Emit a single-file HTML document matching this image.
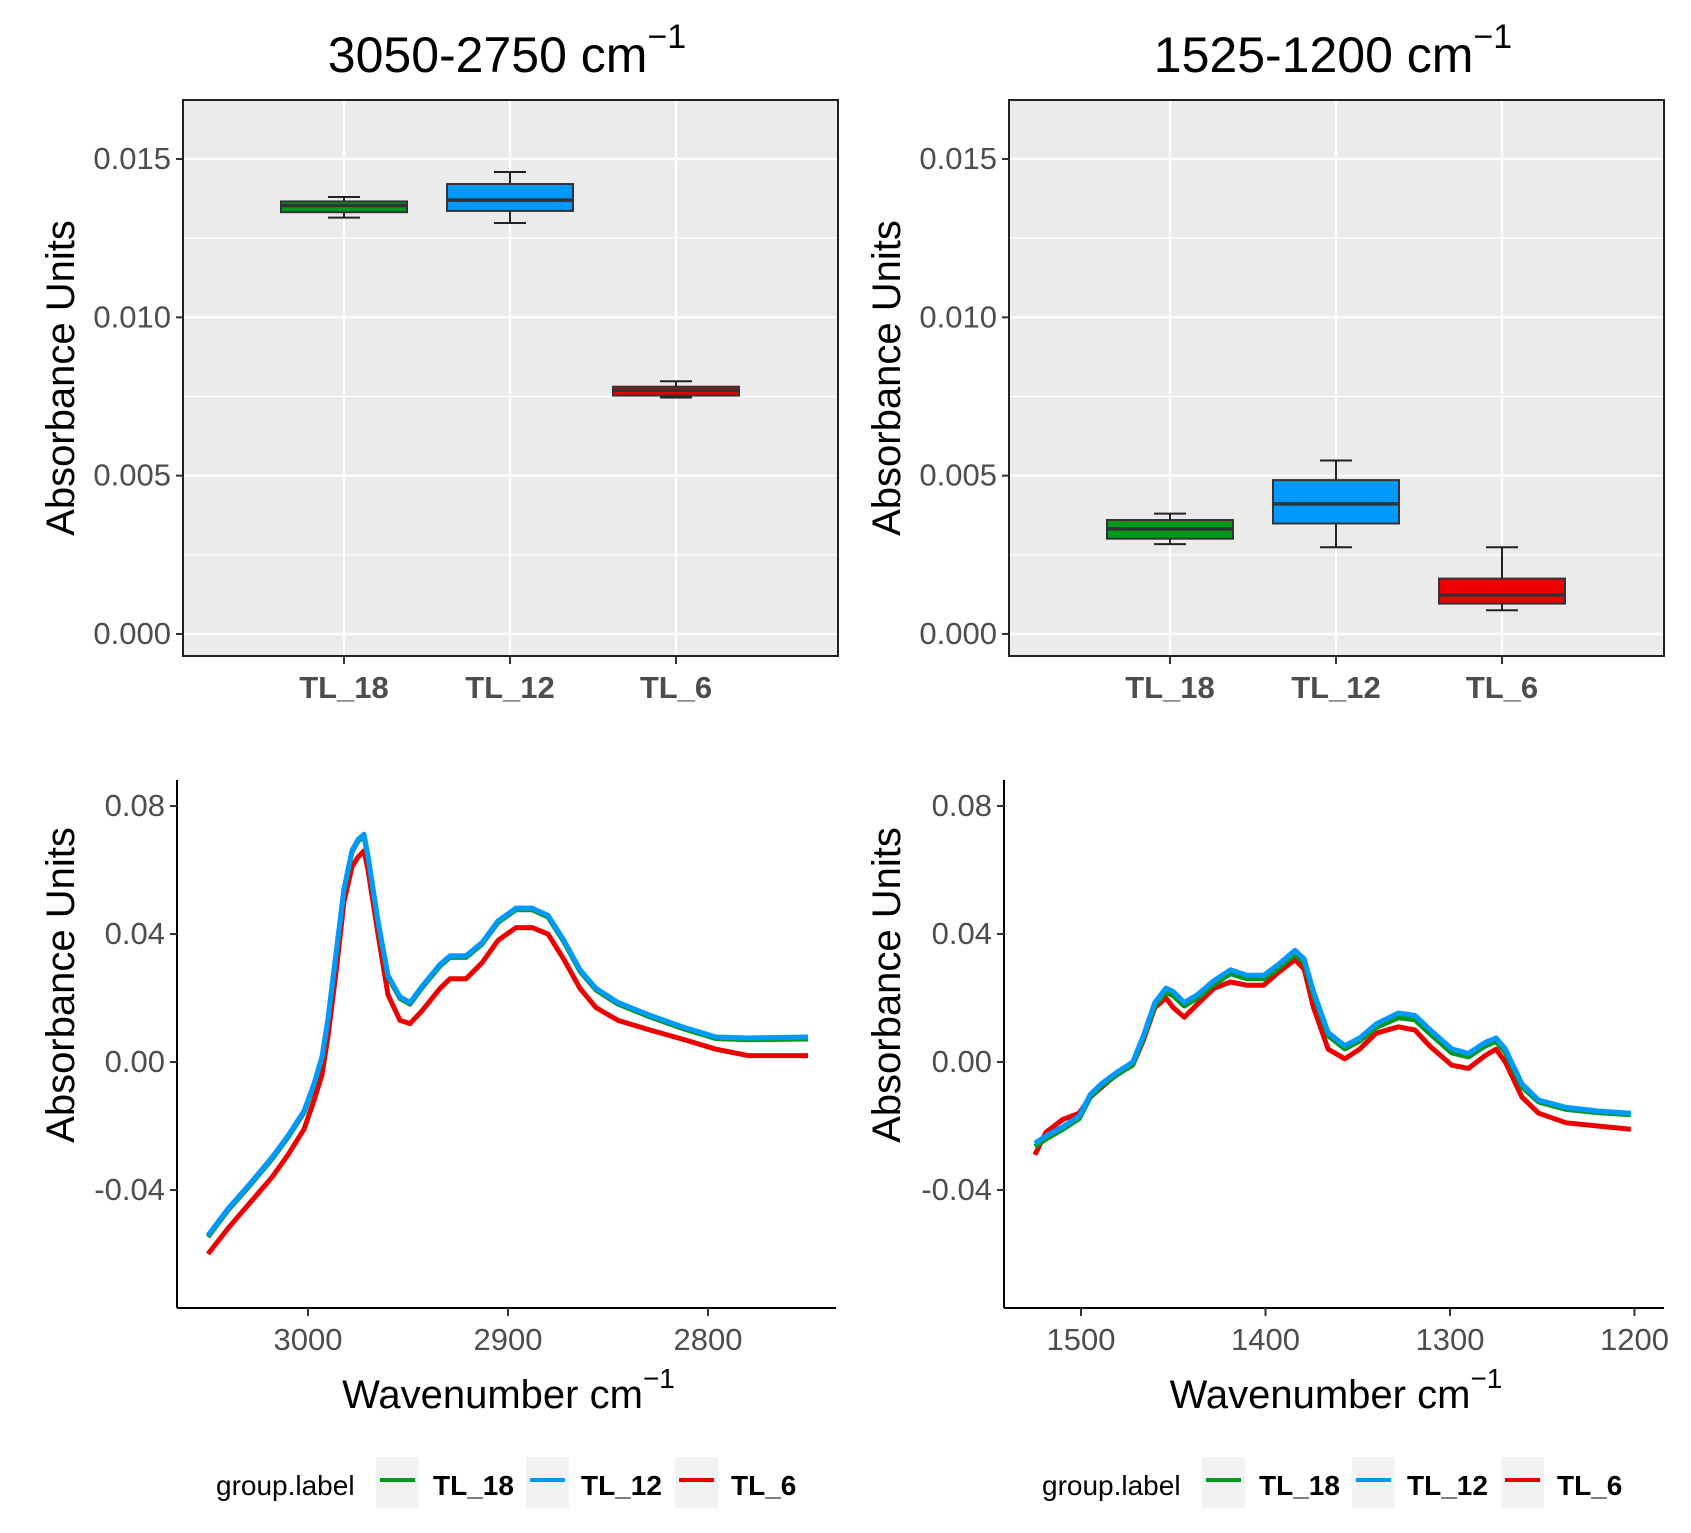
<!DOCTYPE html>
<html><head><meta charset="utf-8"><style>
body{margin:0;background:#fff}
svg text{font-family:"Liberation Sans",Arial,sans-serif}
</style></head><body>
<svg id="chart" width="1691" height="1528" viewBox="0 0 1691 1528" xmlns="http://www.w3.org/2000/svg"></svg>
<script>
const groups = ["TL_18","TL_12","TL_6"];
const colors = ["#00991e","#0099ff","#ee0000"];
// box stats [low, q1, median, q3, high]
const boxA = [[0.01315,0.01332,0.01353,0.01366,0.0138],[0.01298,0.01336,0.0137,0.01421,0.01459],[0.00747,0.00753,0.0077,0.00781,0.00798]];
const boxB = [[0.00284,0.00301,0.00332,0.0036,0.0038],[0.00274,0.00349,0.00411,0.00486,0.00548],[0.00075,0.00096,0.00123,0.00175,0.00274]];
const boxTicks = [0,0.005,0.01,0.015];
const boxTickLabels = ["0.000","0.005","0.010","0.015"];
const specTicks = [-0.04,0,0.04,0.08];
const specTickLabels = ["-0.04","0.00","0.04","0.08"];
const waveA = [3050,3040,3029,3018,3010,3002,2997,2993,2990,2986,2982,2978,2975,2972,2970,2965,2960,2954,2949,2943,2934,2929,2921,2913,2905,2896,2888,2880,2872,2864,2856,2845,2829,2812,2796,2780,2750];
const blueA = [-0.0542,-0.0458,-0.038,-0.0298,-0.023,-0.0153,-0.0068,0.0017,0.0136,0.0339,0.0542,0.0661,0.0695,0.0712,0.0644,0.0441,0.0271,0.0203,0.0186,0.0237,0.0305,0.0332,0.0332,0.0373,0.0441,0.0481,0.0481,0.0458,0.038,0.0288,0.023,0.0186,0.0146,0.0108,0.0078,0.0075,0.0078];
const greenA = [-0.0547,-0.0463,-0.0385,-0.0303,-0.0235,-0.0158,-0.0073,0.0012,0.0131,0.0334,0.0537,0.0656,0.069,0.0705,0.0639,0.0436,0.0266,0.0198,0.0181,0.0232,0.03,0.0327,0.0327,0.0368,0.0436,0.0476,0.0476,0.0453,0.0375,0.0283,0.0225,0.0181,0.0141,0.0103,0.0073,0.007,0.0072];
const redA = [-0.060,-0.052,-0.044,-0.036,-0.029,-0.021,-0.012,-0.004,0.008,0.028,0.050,0.061,0.064,0.066,0.060,0.040,0.021,0.013,0.012,0.016,0.023,0.026,0.026,0.031,0.038,0.042,0.042,0.040,0.032,0.023,0.017,0.013,0.010,0.007,0.004,0.002,0.002];
const waveB = [1525,1519,1510,1501,1495,1489,1481,1472,1466,1460,1454,1450,1444,1437,1428,1419,1410,1401,1393,1384,1379,1374,1366,1357,1349,1340,1328,1319,1311,1299,1290,1281,1275,1270,1261,1252,1237,1220,1202];
const blueB = [-0.0254,-0.0231,-0.0203,-0.0169,-0.0102,-0.0068,-0.0034,0,0.0085,0.0186,0.0231,0.022,0.0186,0.021,0.0254,0.0288,0.0271,0.0271,0.0305,0.0349,0.0322,0.022,0.0092,0.0051,0.0075,0.0119,0.0153,0.0146,0.0102,0.0041,0.0027,0.0061,0.0075,0.0041,-0.0068,-0.0119,-0.0142,-0.0153,-0.016];
const greenB = [-0.0264,-0.0241,-0.0211,-0.0177,-0.011,-0.0076,-0.0042,-0.0008,0.0077,0.0176,0.0218,0.0207,0.0175,0.0199,0.0242,0.0276,0.026,0.026,0.0293,0.0337,0.031,0.021,0.0082,0.0041,0.0065,0.0108,0.0138,0.0132,0.0089,0.0028,0.0016,0.005,0.0064,0.003,-0.0078,-0.0125,-0.0148,-0.0158,-0.0165];
const redB = [-0.029,-0.022,-0.018,-0.016,-0.011,-0.008,-0.004,-0.001,0.007,0.017,0.020,0.017,0.014,0.018,0.023,0.025,0.024,0.024,0.028,0.032,0.029,0.017,0.004,0.001,0.004,0.009,0.011,0.010,0.005,-0.001,-0.002,0.002,0.004,0.000,-0.011,-0.016,-0.019,-0.020,-0.021];
const xTicksA = [3000,2900,2800];
const xTicksB = [1500,1400,1300,1200];

const NS="http://www.w3.org/2000/svg";
const svg=document.getElementById('chart');
function mk(tag,attrs,parent,txt){const e=document.createElementNS(NS,tag);for(const k in attrs)e.setAttribute(k,attrs[k]);if(txt!==undefined)e.textContent=txt;(parent||svg).appendChild(e);return e;}

function title(cx,main){
  const t=mk('text',{x:cx,y:72,'font-size':50,'text-anchor':'middle',fill:'#000'});
  
  
  mk('tspan',{},t,main);
  mk('tspan',{'font-size':34,dy:-24},t,'−1');
}
function yTitle(x,cy){
  const t=mk('text',{x:x,y:cy,'font-size':40,'text-anchor':'middle',transform:`rotate(-90 ${x} ${cy})`,fill:'#000'},svg,'Absorbance Units');
  
  
}

function boxPanel(L,R,T,B,data,name){
  const g=mk('g',{});
  
  
  const y0=634, k=(634-159)/0.015;
  const yS=v=>y0-v*k;
  const xS=i=>L+161+i*166;
  mk('rect',{x:L,y:T,width:R-L,height:B-T,fill:'#ebebeb'},g);
  for(let i=0;i<boxTicks.length-1;i++){const m=(boxTicks[i]+boxTicks[i+1])/2;mk('line',{x1:L,x2:R,y1:yS(m),y2:yS(m),stroke:'#fff','stroke-width':1.2},g);}
  boxTicks.forEach((v,i)=>{
    mk('line',{x1:L,x2:R,y1:yS(v),y2:yS(v),stroke:'#fff','stroke-width':2.2},g);
    mk('line',{x1:L-7,x2:L,y1:yS(v),y2:yS(v),stroke:'#333','stroke-width':2},g);
    const t=mk('text',{x:L-12,y:yS(v)+10,'font-size':31,'text-anchor':'end',fill:'#4d4d4d'},g,boxTickLabels[i]);
    
    
  });
  groups.forEach((gname,i)=>{
    const x=xS(i);
    mk('line',{x1:x,x2:x,y1:T,y2:B,stroke:'#fff','stroke-width':2.2},g);
    mk('line',{x1:x,x2:x,y1:B,y2:B+8,stroke:'#333','stroke-width':2},g);
    const t=mk('text',{x:x,y:698,'font-size':31,'font-weight':'bold','text-anchor':'middle',fill:'#4d4d4d'},g,gname);
    
    
  });
  data.forEach((d,i)=>{
    const x=xS(i), w=63;
    const bg=mk('g',{},g);
    
    
    mk('line',{x1:x,x2:x,y1:yS(d[0]),y2:yS(d[4]),stroke:'#222','stroke-width':2},bg);
    mk('line',{x1:x-16,x2:x+16,y1:yS(d[0]),y2:yS(d[0]),stroke:'#222','stroke-width':2},bg);
    mk('line',{x1:x-16,x2:x+16,y1:yS(d[4]),y2:yS(d[4]),stroke:'#222','stroke-width':2},bg);
    mk('rect',{x:x-w,y:yS(d[3]),width:2*w,height:yS(d[1])-yS(d[3]),fill:colors[i],stroke:'#333','stroke-width':2},bg);
    mk('line',{x1:x-w,x2:x+w,y1:yS(d[2]),y2:yS(d[2]),stroke:'#333','stroke-width':3.5},bg);
  });
  mk('rect',{x:L,y:T,width:R-L,height:B-T,fill:'none',stroke:'#222','stroke-width':2},g);
}

function specPanel(L,R,T,B,xmap,xTicks,wave,series,name){
  const g=mk('g',{});
  
  
  const yS=v=>1062-v*(128/0.04);
  mk('line',{x1:L,x2:L,y1:T,y2:B,stroke:'#000','stroke-width':2},g);
  mk('line',{x1:L,x2:R,y1:B,y2:B,stroke:'#000','stroke-width':2},g);
  specTicks.forEach((v,i)=>{
    mk('line',{x1:L-7,x2:L,y1:yS(v),y2:yS(v),stroke:'#333','stroke-width':2},g);
    const t=mk('text',{x:L-12,y:yS(v)+10,'font-size':31,'text-anchor':'end',fill:'#4d4d4d'},g,specTickLabels[i]);
    
    
  });
  xTicks.forEach(v=>{
    mk('line',{x1:xmap(v),x2:xmap(v),y1:B,y2:B+8,stroke:'#333','stroke-width':2},g);
    const t=mk('text',{x:xmap(v),y:1350,'font-size':31,'text-anchor':'middle',fill:'#4d4d4d'},g,String(v));
    
    
  });
  const order=[2,0,1];
  order.forEach(i=>{
    const pts=wave.map((w,j)=>xmap(w).toFixed(1)+','+yS(series[i][j]).toFixed(1)).join(' ');
    const p=mk('polyline',{points:pts,fill:'none',stroke:colors[i],'stroke-width':5,'stroke-linejoin':'round'},g);
    
    
  });
  const cx=(L+R)/2+2;
  const t=mk('text',{x:cx,y:1408,'font-size':40,'text-anchor':'middle',fill:'#000'},g);
  
  
  mk('tspan',{},t,'Wavenumber cm');
  mk('tspan',{'font-size':28,dy:-20},t,'−1');
}

function legend(ox){
  const g=mk('g',{});
  
  
  const t=mk('text',{x:ox,y:1495,'font-size':28,fill:'#000'},g,'group.label');
  
  
  const keys=[376,526,675], labs=[433,581,731];
  groups.forEach((n,i)=>{
    const e=mk('g',{},g);
    
    
    const d=ox-216;
    mk('rect',{x:keys[i]+d,y:1457,width:43,height:51,fill:'#f2f2f2'},e);
    mk('line',{x1:keys[i]+d+4,x2:keys[i]+d+39,y1:1480,y2:1480,stroke:colors[i],'stroke-width':4},e);
    mk('text',{x:labs[i]+d,y:1495,'font-size':28,'font-weight':'bold',fill:'#000'},e,n);
  });
}

title(507,'3050-2750 cm');
title(1333,'1525-1200 cm');
yTitle(74,378); yTitle(900,378);
yTitle(74,985); yTitle(900,985);
boxPanel(183,838,100,656,boxA,'box-panel-3050-2750');
boxPanel(1009,1664,100,656,boxB,'box-panel-1525-1200');
specPanel(177,836,780,1308,w=>308+(3000-w)*2.0,xTicksA,waveA,[greenA,blueA,redA],'spectra-panel-3050-2750');
specPanel(1004,1664,780,1308,w=>1081+(1500-w)*1.845,xTicksB,waveB,[greenB,blueB,redB],'spectra-panel-1525-1200');
legend(216); legend(1042);
</script>
</body></html>
